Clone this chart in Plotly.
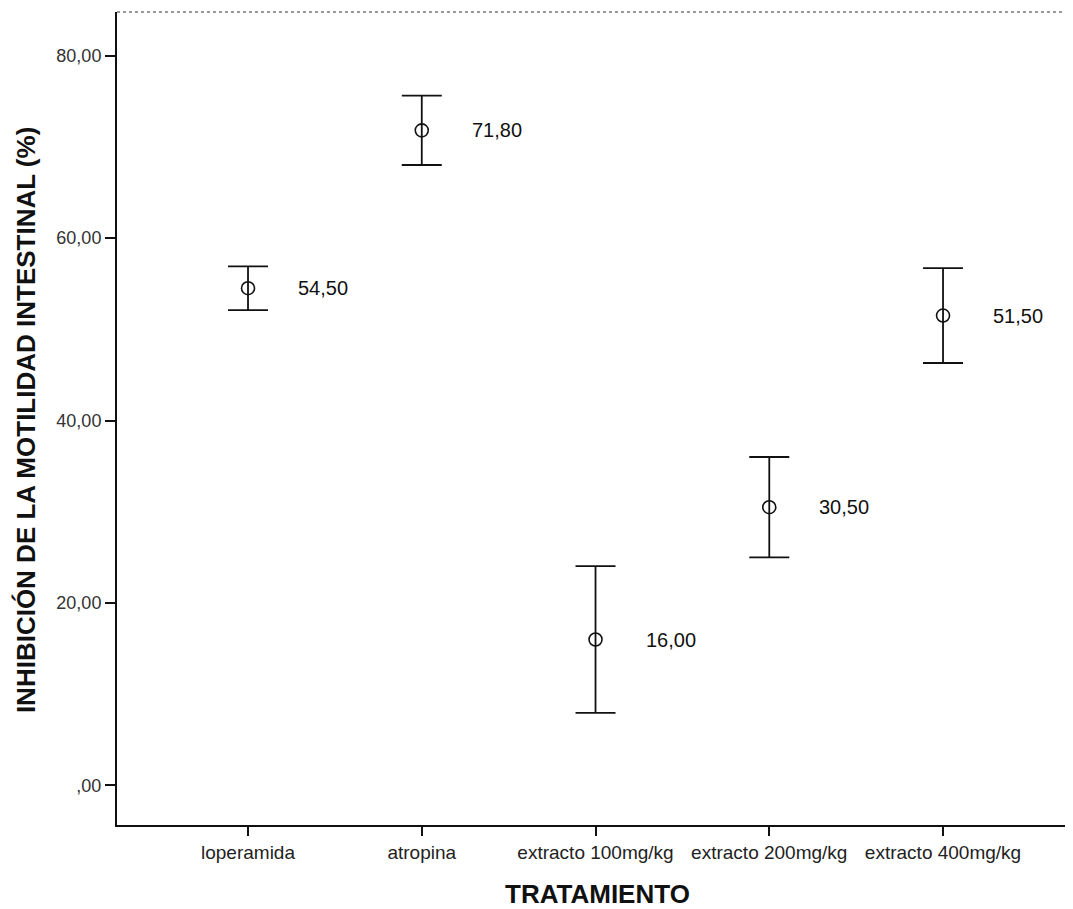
import plotly.graph_objects as go

# ---- data ----
categories = ["loperamida", "atropina", "extracto 100mg/kg", "extracto 200mg/kg", "extracto 400mg/kg"]
means = [54.5, 71.8, 16.0, 30.5, 51.5]
errors = [2.4, 3.8, 8.05, 5.5, 5.2]
mean_labels = ["54,50", "71,80", "16,00", "30,50", "51,50"]
y_tick_vals = [0, 20, 40, 60, 80]
y_tick_text = [",00", "20,00", "40,00", "60,00", "80,00"]

FONT = "Arial, Liberation Sans, sans-serif"

fig = go.Figure()
fig.add_trace(go.Scatter(
    x=list(range(len(categories))),
    y=means,
    mode="markers",
    marker=dict(symbol="circle-open", size=13, color="#111111", line=dict(width=1.6, color="#111111")),
    error_y=dict(type="data", array=errors, symmetric=True, width=20, thickness=1.8, color="#111111"),
    showlegend=False,
    hoverinfo="skip",
))

for i, (m, lab) in enumerate(zip(means, mean_labels)):
    fig.add_annotation(x=i, y=m, text=lab, showarrow=False, xanchor="left", yanchor="middle",
                       xshift=48, font=dict(family=FONT, size=20, color="#111111"))

# axis titles
fig.add_annotation(xref="paper", yref="paper", x=-0.0952, y=0.498, textangle=-90,
                   text="<b>INHIBICIÓN DE LA MOTILIDAD INTESTINAL (%)</b>", showarrow=False,
                   xanchor="center", yanchor="middle", font=dict(family=FONT, size=26, color="#111111"))
fig.add_annotation(xref="paper", yref="paper", x=0.503, y=-0.085,
                   text="<b>TRATAMIENTO</b>", showarrow=False,
                   xanchor="center", yanchor="middle", font=dict(family=FONT, size=26, color="#111111"))

# dotted top frame line
fig.add_shape(type="line", xref="paper", yref="paper", x0=0, x1=1, y0=1, y1=1,
              line=dict(color="#777777", width=1.5, dash="dot"))

fig.update_layout(
    width=1065, height=901,
    margin=dict(l=109, r=0, t=4, b=84),
    plot_bgcolor="white", paper_bgcolor="white",
    font=dict(family=FONT, color="#222222"),
    xaxis=dict(
        range=[-0.754, 4.748],
        tickmode="array", tickvals=list(range(len(categories))), ticktext=categories,
        showgrid=False, zeroline=False,
        showline=True, linecolor="#111111", linewidth=2,
        ticks="outside", ticklen=9, tickwidth=1.5, tickcolor="#111111",
        tickfont=dict(family=FONT, size=19, color="#222222"),
    ),
    yaxis=dict(
        range=[-4.33, 84.77],
        tickmode="array", tickvals=y_tick_vals, ticktext=y_tick_text,
        showgrid=False, zeroline=False,
        showline=True, linecolor="#111111", linewidth=2,
        ticks="outside", ticklen=10, tickwidth=1.5, tickcolor="#111111",
        tickfont=dict(family=FONT, size=18, color="#333333"),
    ),
)

fig.write_html("out.html")
